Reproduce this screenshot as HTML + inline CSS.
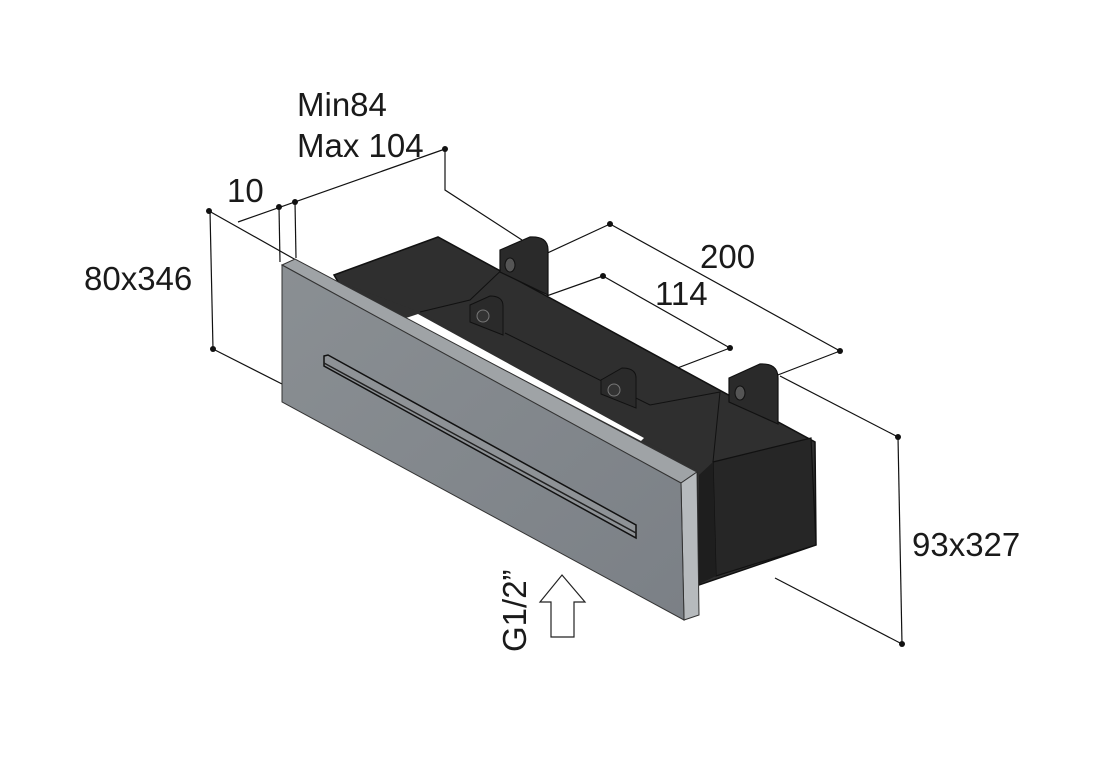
<!DOCTYPE html>
<html><head><style>
html,body{margin:0;padding:0;background:#fff;width:1120px;height:784px;overflow:hidden}
text{font-family:"Liberation Sans",sans-serif;fill:#1a1a1a}
</style></head><body>
<svg width="1120" height="784" viewBox="0 0 1120 784" xmlns="http://www.w3.org/2000/svg">
<defs>
<linearGradient id="pg" x1="0" y1="0" x2="1" y2="1">
<stop offset="0" stop-color="#8a8f93"/><stop offset="1" stop-color="#7b8086"/>
</linearGradient>
</defs>
<g stroke="#111" stroke-width="1.2" fill="none">
<line x1="238" y1="222" x2="445" y2="149"/>
<polyline points="445,149 445,190 522,240"/>
<line x1="209" y1="211" x2="296" y2="260"/>
<line x1="279" y1="207" x2="280" y2="262"/>
<line x1="295" y1="202" x2="296" y2="258"/>
<line x1="210" y1="211" x2="213" y2="349"/>
<line x1="213" y1="349" x2="282" y2="384"/>
<line x1="610" y1="224" x2="840" y2="351"/>
<line x1="610" y1="224" x2="528" y2="262"/>
<line x1="840" y1="351" x2="770" y2="378"/>
<line x1="603" y1="276" x2="730" y2="348"/>
<line x1="603" y1="276" x2="490" y2="316"/>
<line x1="730" y1="348" x2="625" y2="388"/>
<line x1="780" y1="376" x2="898" y2="437"/>
<line x1="898" y1="437" x2="902" y2="644"/>
<line x1="902" y1="644" x2="775" y2="578"/>
</g>
<g fill="#111">
<circle cx="209" cy="211" r="3"/><circle cx="279" cy="207" r="3"/><circle cx="295" cy="202" r="3"/><circle cx="445" cy="149" r="3"/>
<circle cx="213" cy="349" r="3"/><circle cx="610" cy="224" r="3"/><circle cx="840" cy="351" r="3"/>
<circle cx="603" cy="276" r="3"/><circle cx="730" cy="348" r="3"/><circle cx="898" cy="437" r="3"/><circle cx="902" cy="644" r="3"/>
</g>
<polygon points="334,275 438,237 815,442 816,545 699,585 697,472 340,285" fill="#2f2f2f" stroke="#111" stroke-width="1.5"/>
<polygon points="340,282 420,312 697,470 697,480 340,290" fill="#2f2f2f"/>
<polygon points="713,462 811,438 816,545 716,576" fill="#262626" stroke="#111" stroke-width="1.2"/>
<polygon points="699,475 713,462 716,576 699,584" fill="#1e1e1e"/>
<polyline points="420,312 470,300 510,262 548,285" fill="none" stroke="#111"/>
<polyline points="505,333 650,405 720,392 713,462" fill="none" stroke="#111"/>
<path d="M500,250 L530,237 Q548,236 548,250 L548,295 L500,272 Z" fill="#2a2a2a" stroke="#111" stroke-width="1.2"/>
<ellipse cx="510" cy="265" rx="5" ry="7" fill="#555" stroke="#111"/>
<path d="M729,378 L760,364 Q778,363 778,378 L778,424 L729,402 Z" fill="#2a2a2a" stroke="#111" stroke-width="1.2"/>
<ellipse cx="740" cy="393" rx="5" ry="7" fill="#555" stroke="#111"/>
<path d="M470,305 L490,296 Q503,296 503,306 L503,335 L470,322 Z" fill="#2a2a2a" stroke="#111"/>
<circle cx="483" cy="316" r="6" fill="#333" stroke="#777"/>
<path d="M601,380 L622,368 Q636,368 636,378 L636,408 L601,394 Z" fill="#2a2a2a" stroke="#111"/>
<circle cx="614" cy="390" r="6" fill="#333" stroke="#777"/>
<polygon points="406,318 418,314 644,438 641,441" fill="#fff"/>
<polygon points="282,265 295,259 697,472 681,483" fill="#9fa3a6" stroke="#333" stroke-width="1"/>
<polygon points="681,483 697,472 699,615 684,620" fill="#b6babd" stroke="#333" stroke-width="1"/>
<polygon points="282,265 681,483 684,620 282,402" fill="url(#pg)" stroke="#333" stroke-width="1"/>
<polygon points="324,356 328,355 636,525 636,538 324,366" fill="#8e9296" stroke="#111" stroke-width="1.5"/>
<line x1="324" y1="363" x2="636" y2="533" stroke="#222" stroke-width="1.5"/>
<polygon points="562,575 585,602 574,602 574,637 551,637 551,602 540,602" fill="#fff" stroke="#222" stroke-width="1.2"/>
<text x="297" y="116" font-size="33">Min84</text>
<text x="297" y="157" font-size="33">Max 104</text>
<text x="227" y="202" font-size="33">10</text>
<text x="84" y="290" font-size="33">80x346</text>
<text x="700" y="268" font-size="33">200</text>
<text x="655" y="305" font-size="33">114</text>
<text x="912" y="556" font-size="33">93x327</text>
<text x="0" y="0" font-size="33" transform="translate(526,652) rotate(-90)">G1/2”</text>
</svg>
</body></html>
